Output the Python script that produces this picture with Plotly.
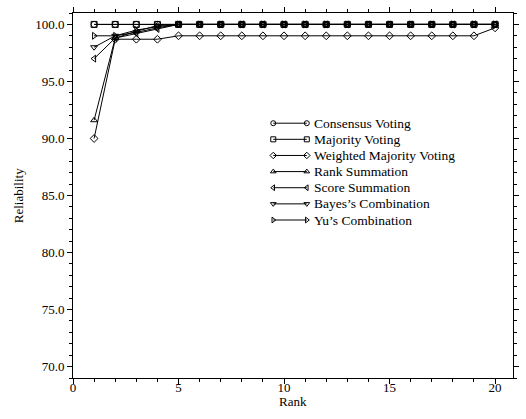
import plotly.graph_objects as go

ranks = list(range(1, 21))
consensus = [100.0, 100.0, 100.0, 100.0, 100.0, 100.0, 100.0, 100.0, 100.0, 100.0,
             100.0, 100.0, 100.0, 100.0, 100.0, 100.0, 100.0, 100.0, 100.0, 100.0]
majority = [100.0, 100.0, 100.0, 100.0, 100.0, 100.0, 100.0, 100.0, 100.0, 100.0,
            100.0, 100.0, 100.0, 100.0, 100.0, 100.0, 100.0, 100.0, 100.0, 100.0]
weighted = [90.0, 98.7, 98.7, 98.7, 99.0, 99.0, 99.0, 99.0, 99.0, 99.0,
            99.0, 99.0, 99.0, 99.0, 99.0, 99.0, 99.0, 99.0, 99.0, 99.7]
rank_sum = [91.6, 98.8, 99.4, 99.9, 100.0, 100.0, 100.0, 100.0, 100.0, 100.0,
            100.0, 100.0, 100.0, 100.0, 100.0, 100.0, 100.0, 100.0, 100.0, 100.0]
score_sum = [97.0, 98.8, 99.2, 99.6, 100.0, 100.0, 100.0, 100.0, 100.0, 100.0,
             100.0, 100.0, 100.0, 100.0, 100.0, 100.0, 100.0, 100.0, 100.0, 100.0]
bayes = [98.0, 99.0, 99.3, 99.7, 100.0, 100.0, 100.0, 100.0, 100.0, 100.0,
         100.0, 100.0, 100.0, 100.0, 100.0, 100.0, 100.0, 100.0, 100.0, 100.0]
yu = [99.0, 99.0, 99.5, 99.8, 100.0, 100.0, 100.0, 100.0, 100.0, 100.0,
      100.0, 100.0, 100.0, 100.0, 100.0, 100.0, 100.0, 100.0, 100.0, 100.0]

series_names = ["Consensus Voting", "Majority Voting", "Weighted Majority Voting",
                "Rank Summation", "Score Summation", "Bayes\u2019s Combination",
                "Yu\u2019s Combination"]
series_values = [consensus, majority, weighted, rank_sum, score_sum, bayes, yu]
series_symbols = ["circle-open", "square-open", "diamond-open", "triangle-up-open",
                  "triangle-left-open", "triangle-down-open", "triangle-right-open"]

FONT = "Liberation Serif"
W, H = 526, 419
ML, MR, MT, MB = 73, 7, 7, 41

fig = go.Figure()
for name, vals, sym in zip(series_names, series_values, series_symbols):
    fig.add_trace(go.Scatter(
        x=ranks, y=vals, name=name, mode="lines+markers", showlegend=False,
        line=dict(color="black", width=1),
        marker=dict(symbol=sym, size=6, color="black", line=dict(color="black", width=1)),
    ))

# Custom legend (line sample with a marker at both ends), drawn on an overlay
# axis pair measured in pixels of the plot area.
leg_x0, leg_x1, leg_text_x = 276, 310, 315
leg_top, leg_gap = 119, 16.4
for i, (name, sym) in enumerate(zip(series_names, series_symbols)):
    yy = leg_top + i * leg_gap
    fig.add_trace(go.Scatter(
        x=[leg_x0, leg_x1], y=[yy, yy], xaxis="x2", yaxis="y2",
        mode="lines+markers", showlegend=False, hoverinfo="skip",
        line=dict(color="black", width=1),
        marker=dict(symbol=sym, size=5, color="black", line=dict(color="black", width=1)),
    ))
    fig.add_annotation(x=leg_text_x, y=yy, xref="x2", yref="y2", text=name,
                       showarrow=False, xanchor="left", yanchor="middle",
                       font=dict(family=FONT, size=13.5, color="black"))

axis_common = dict(
    showline=True, linecolor="black", linewidth=1, mirror="ticks",
    ticks="outside", tickcolor="black", ticklen=5, tickwidth=1,
    showgrid=False, zeroline=False,
    tickfont=dict(family=FONT, size=13, color="black"),
)
fig.update_layout(
    xaxis=dict(range=[0, 20.85], tick0=0, dtick=5, ticklabelstandoff=-8,
               minor=dict(dtick=1, ticks="outside", ticklen=3, tickcolor="black", showgrid=False),
               **axis_common),
    yaxis=dict(range=[69, 101], tick0=70, dtick=5, tickformat=".1f",
               minor=dict(dtick=1, ticks="outside", ticklen=3, tickcolor="black", showgrid=False),
               **axis_common),
    xaxis2=dict(range=[ML, W - MR], overlaying="x", visible=False, fixedrange=True),
    yaxis2=dict(range=[H - MB, MT], overlaying="y", visible=False, fixedrange=True),
    width=W, height=H,
    margin=dict(l=ML, r=MR, t=MT, b=MB),
    paper_bgcolor="white", plot_bgcolor="white",
    font=dict(family=FONT, size=13, color="black"),
    showlegend=False,
)

plot_h = H - MT - MB
plot_w = W - ML - MR
fig.add_annotation(text="Rank", xref="paper", yref="paper", x=0.5,
                   y=-(402 - (H - MB)) / plot_h, showarrow=False,
                   xanchor="center", yanchor="middle",
                   font=dict(family=FONT, size=13, color="black"))
fig.add_annotation(text="Reliability", xref="paper", yref="paper",
                   x=(18 - ML) / plot_w, y=0.5, textangle=-90, showarrow=False,
                   xanchor="center", yanchor="middle",
                   font=dict(family=FONT, size=13, color="black"))

fig.write_html("out.html")
